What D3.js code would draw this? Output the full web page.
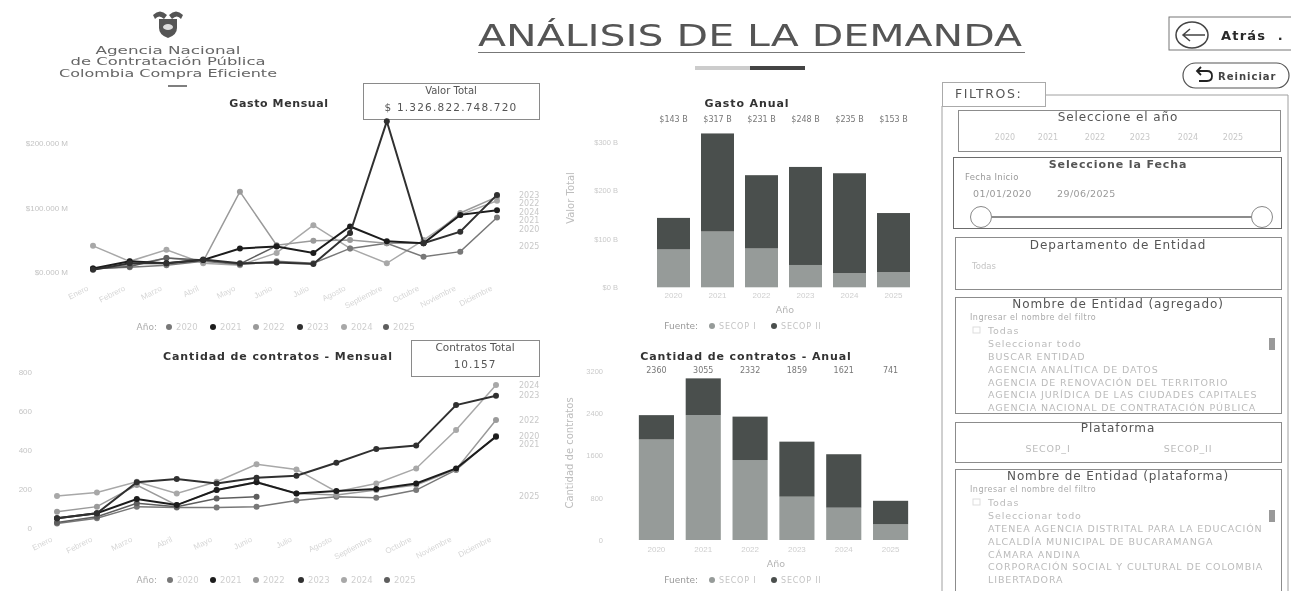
<!DOCTYPE html>
<html lang="es">
<head>
<meta charset="utf-8">
<title>Análisis de la demanda</title>
<script src="https://cdn.jsdelivr.net/npm/d3@7"></script>
<style>
  html, body { margin: 0; padding: 0; background: #fff; overflow: hidden; }
  svg { display: block; font-family: "DejaVu Sans", sans-serif; filter: blur(0.7px); }
</style>
</head>
<body>
<div id="chart"></div>
<script>
const months = ['Enero', 'Febrero', 'Marzo', 'Abril', 'Mayo', 'Junio', 'Julio', 'Agosto', 'Septiembre', 'Octubre', 'Noviembre', 'Diciembre'];
const years = ['2020', '2021', '2022', '2023', '2024', '2025'];
const sources = ['SECOP I', 'SECOP II'];

// gasto mensual, miles de millones
const gasto2020 = [6, 8, 11, 17, 12, 17, 14, 37, 45, 24, 32, 85];
const gasto2021 = [6, 17, 14, 19, 37, 40, 30, 71, 48, 45, 89, 96];
const gasto2022 = [6, 11, 22, 17, 125, 42, 49, 50, 45, 45, 92, 117];
const gasto2023 = [4, 14, 14, 20, 14, 15, 13, 61, 234, 45, 63, 120];
const gasto2024 = [41, 17, 35, 14, 11, 30, 73, 37, 14, 50, 89, 111];
const gasto2025 = [5, 9, 22, 19, 13, 41];

// contratos por mes
const contratos2020 = [22, 48, 108, 104, 103, 108, 139, 159, 154, 193, 296, 470];
const contratos2021 = [48, 74, 147, 116, 193, 233, 176, 188, 198, 227, 304, 467];
const contratos2022 = [82, 108, 219, 116, 193, 236, 176, 168, 193, 219, 299, 552];
const contratos2023 = [48, 74, 233, 250, 227, 256, 267, 333, 404, 421, 629, 677];
const contratos2024 = [162, 181, 236, 176, 236, 325, 299, 185, 227, 304, 501, 732];
const contratos2025 = [27, 56, 125, 108, 150, 159];

// anual, por fuente
const gastoSecop1 = [78, 115, 80, 46, 29, 31];
const gastoSecop2 = [65, 202, 151, 202, 206, 122];
const contratosSecop1 = [1900, 2360, 1512, 819, 611, 296];
const contratosSecop2 = [460, 695, 820, 1040, 1010, 445];

const gastoTicks = [0, 100, 200];
const contratosTicks = [0, 200, 400, 600, 800];
const gastoAnualTicks = [0, 100, 200, 300];
const contratosAnualTicks = [0, 800, 1600, 2400, 3200];

const yearColors = ['#787878', '#1c1c1c', '#9a9a9a', '#303030', '#a8a8a8', '#5e5e5e'];
const sourceColors = ['#969b99', '#4a4f4d'];

const listaAgregado = ['Todas', 'Seleccionar todo', 'BUSCAR ENTIDAD', 'AGENCIA ANALÍTICA DE DATOS', 'AGENCIA DE RENOVACIÓN DEL TERRITORIO', 'AGENCIA JURÍDICA DE LAS CIUDADES CAPITALES', 'AGENCIA NACIONAL DE CONTRATACIÓN PÚBLICA'];
const listaPlataforma = ['Todas', 'Seleccionar todo', 'ATENEA AGENCIA DISTRITAL PARA LA EDUCACIÓN', 'ALCALDÍA MUNICIPAL DE BUCARAMANGA', 'CÁMARA ANDINA', 'CORPORACIÓN SOCIAL Y CULTURAL DE COLOMBIA', 'LIBERTADORA'];

const svg = d3
  .select('#chart')
  .append('svg')
  .attr('width', 1291)
  .attr('height', 591);

const label = (x, y, text, size, fill, opts = {}) => {
  const node = svg
    .append('text')
    .attr('x', x)
    .attr('y', y)
    .attr('dy', '0.35em')
    .attr('text-anchor', opts.anchor || 'start')
    .attr('font-size', size)
    .attr('font-weight', opts.weight || 'normal')
    .attr('letter-spacing', opts.spacing || 0)
    .attr('fill', fill)
    .text(text);
  // el original esta estirado a lo ancho
  if (opts.length) node.attr('textLength', opts.length).attr('lengthAdjust', 'spacingAndGlyphs');
  return node;
};

const box = (x, y, w, h, stroke = '#8c8c8c') =>
  svg
    .append('rect')
    .attr('x', x)
    .attr('y', y)
    .attr('width', w)
    .attr('height', h)
    .attr('fill', '#fff')
    .attr('stroke', stroke)
    .attr('stroke-width', 1);

/*
  HEADER
*/
const emblem = svg.append('g').attr('transform', 'translate(168, 23)').attr('fill', '#555');
emblem.append('path').attr('d', 'M-15 -8 Q-8 -15 -1 -8 L-4 -4 Q-9 -9 -13 -4 Z');
emblem.append('path').attr('d', 'M15 -8 Q8 -15 1 -8 L4 -4 Q9 -9 13 -4 Z');
emblem.append('path').attr('d', 'M-9 -4 H9 V5 Q9 12 0 15 Q-9 12 -9 5 Z');
emblem.append('ellipse').attr('cy', 4).attr('rx', 5).attr('ry', 3).attr('fill', '#ddd');

label(168, 50, 'Agencia Nacional', 10.5, '#666', { anchor: 'middle', length: 145 });
label(168, 61.5, 'de Contratación Pública', 10.5, '#666', { anchor: 'middle', length: 195 });
label(168, 73, 'Colombia Compra Eficiente', 10.5, '#666', { anchor: 'middle', length: 218 });
svg.append('line').attr('x1', 168).attr('x2', 187).attr('y1', 86).attr('y2', 86).attr('stroke', '#555').attr('stroke-width', 1.5);

label(478, 35, 'ANÁLISIS DE LA DEMANDA', 31, '#555', { length: 544 });
svg.append('line').attr('x1', 478).attr('x2', 1025).attr('y1', 52.5).attr('y2', 52.5).attr('stroke', '#777');

svg.append('rect').attr('x', 695).attr('y', 66).attr('width', 55).attr('height', 4).attr('fill', '#ccc');
svg.append('rect').attr('x', 750).attr('y', 66).attr('width', 55).attr('height', 4).attr('fill', '#444');

// Atrás
box(1169, 17, 124, 33, '#777');
svg.append('ellipse').attr('cx', 1192).attr('cy', 35).attr('rx', 16).attr('ry', 13).attr('fill', 'none').attr('stroke', '#444').attr('stroke-width', 1.5);
svg.append('path').attr('d', 'M1205 35 H1183 M1190 29 L1183 35 L1190 41').attr('fill', 'none').attr('stroke', '#444').attr('stroke-width', 1.5);
label(1221, 35, 'Atrás\u00a0\u00a0.', 13, '#2a2a2a', { weight: 'bold', spacing: 1.2 });

// Reiniciar
svg
  .append('rect')
  .attr('x', 1183)
  .attr('y', 63)
  .attr('width', 106)
  .attr('height', 25)
  .attr('rx', 12.5)
  .attr('fill', '#fff')
  .attr('stroke', '#555')
  .attr('stroke-width', 1.2);
svg.append('path').attr('d', 'M1197 71 H1207 Q1212 71 1212 76 Q1212 81 1207 81 H1199 M1201 67 L1197 71 L1201 75').attr('fill', 'none').attr('stroke', '#222').attr('stroke-width', 1.8);
label(1218, 76, 'Reiniciar', 10, '#444', { weight: 'bold', spacing: 1 });

/*
  LINE CHARTS
*/
const lineChart = (cfg) => {
  const x = d3.scalePoint().domain(months).range(cfg.xRange);
  const y = d3.scaleLinear().domain(cfg.yDomain).range(cfg.yRange);

  const yAxis = svg
    .append('g')
    .attr('transform', `translate(${cfg.tickRight + 3}, 0)`)
    .call(d3.axisLeft(y).tickValues(cfg.ticks).tickSize(0).tickPadding(3).tickFormat(cfg.tickFormat));
  yAxis.select('.domain').remove();
  yAxis.selectAll('text').attr('fill', '#c4c4c4').attr('font-size', 8);

  const xAxis = svg
    .append('g')
    .attr('transform', `translate(0, ${cfg.monthsY})`)
    .call(d3.axisBottom(x).tickSize(0).tickPadding(0));
  xAxis.select('.domain').remove();
  xAxis
    .selectAll('text')
    .attr('fill', '#d6d6d6')
    .attr('font-size', 8)
    .attr('text-anchor', 'end')
    .attr('transform', 'translate(-7, 3) rotate(-27)');

  const line = d3
    .line()
    .x((d, i) => x(months[i]))
    .y((d) => y(d));

  // grises claros primero, los oscuros quedan encima
  const drawOrder = [4, 0, 2, 5, 1, 3];
  drawOrder.forEach((k) => {
    svg
      .append('path')
      .attr('d', line(cfg.series[k]))
      .attr('fill', 'none')
      .attr('stroke', yearColors[k])
      .attr('stroke-width', k === 1 || k === 3 ? 2 : 1.5);

    svg
      .append('g')
      .selectAll('circle')
      .data(cfg.series[k])
      .join('circle')
      .attr('cx', (d, i) => x(months[i]))
      .attr('cy', (d) => y(d))
      .attr('r', 3)
      .attr('fill', yearColors[k]);
  });

  // etiquetas finales, separadas para que no se pisen
  const ends = years
    .map((year, k) => ({ year, pos: y(cfg.series[k][cfg.series[k].length - 1]) }))
    .sort((a, b) => a.pos - b.pos);
  ends.forEach((d, i) => {
    if (i > 0 && d.pos - ends[i - 1].pos < 8.5) d.pos = ends[i - 1].pos + 8.5;
    label(cfg.endX, d.pos, d.year, 8, '#c8c8c8');
  });

  // leyenda
  label(cfg.legendX, cfg.legendY, 'Año:', 9, '#aaa', { anchor: 'end' });
  cfg.legendDots.forEach((dot, k) => {
    svg.append('circle').attr('cx', dot).attr('cy', cfg.legendY).attr('r', 3).attr('fill', yearColors[k]);
    label(dot + 7, cfg.legendY, years[k], 8.5, '#cfcfcf');
  });
};

// recuadros antes de las lineas: el pico de septiembre toca el borde
box(363.5, 83.5, 176, 36, '#8a8a8a');
box(411.5, 340.5, 128, 36, '#8a8a8a');

lineChart({
  series: [gasto2020, gasto2021, gasto2022, gasto2023, gasto2024, gasto2025],
  xRange: [93, 497],
  yDomain: [0, 250],
  yRange: [272.3, 111],
  ticks: gastoTicks,
  tickFormat: (d) => `$${d}.000 M`,
  tickRight: 68,
  monthsY: 282,
  endX: 519,
  legendX: 157,
  legendY: 327,
  legendDots: [169, 213, 256, 300, 344, 386],
});

lineChart({
  series: [contratos2020, contratos2021, contratos2022, contratos2023, contratos2024, contratos2025],
  xRange: [57, 496],
  yDomain: [0, 800],
  yRange: [527.7, 371.7],
  ticks: contratosTicks,
  tickFormat: (d) => d,
  tickRight: 32,
  monthsY: 533,
  endX: 519,
  legendX: 157,
  legendY: 580,
  legendDots: [170, 213, 256, 301, 344, 387],
});

label(279, 103, 'Gasto Mensual', 11, '#333', { anchor: 'middle', weight: 'bold', spacing: 0.6 });
label(278, 356, 'Cantidad de contratos - Mensual', 11, '#333', { anchor: 'middle', weight: 'bold', spacing: 0.9 });

label(451, 90, 'Valor Total', 10, '#555', { anchor: 'middle' });
label(451, 107, '$ 1.326.822.748.720', 10.5, '#555', { anchor: 'middle', spacing: 1.2 });
label(475, 347, 'Contratos Total', 10.5, '#555', { anchor: 'middle' });
label(475, 364, '10.157', 10.5, '#555', { anchor: 'middle', spacing: 1 });

/*
  BAR CHARTS
*/
const barChart = (cfg) => {
  const x = d3.scaleBand().domain(years.map(String)).range(cfg.xRange).paddingInner(0.25).paddingOuter(0.125);
  const y = d3.scaleLinear().domain(cfg.yDomain).range(cfg.yRange);

  const yAxis = svg
    .append('g')
    .attr('transform', `translate(${cfg.tickRight + 3}, 0)`)
    .call(d3.axisLeft(y).tickValues(cfg.ticks).tickSize(0).tickPadding(3).tickFormat(cfg.tickFormat));
  yAxis.select('.domain').remove();
  yAxis.selectAll('text').attr('fill', '#cacaca').attr('font-size', 7.5);

  const xAxis = svg
    .append('g')
    .attr('transform', `translate(0, ${cfg.yearsY})`)
    .call(d3.axisBottom(x).tickSize(0).tickPadding(0));
  xAxis.select('.domain').remove();
  xAxis.selectAll('text').attr('fill', '#cfcfcf').attr('font-size', 8);

  const rows = years.map((year, i) => ({ year, low: cfg.low[i], high: cfg.high[i] }));

  const bars = svg.append('g').selectAll('g').data(rows).join('g');

  bars
    .append('rect')
    .attr('x', (d) => x(d.year))
    .attr('y', (d) => y(d.low))
    .attr('width', x.bandwidth())
    .attr('height', (d) => y(0) - y(d.low))
    .attr('fill', sourceColors[0]);

  bars
    .append('rect')
    .attr('x', (d) => x(d.year))
    .attr('y', (d) => y(d.low + d.high))
    .attr('width', x.bandwidth())
    .attr('height', (d) => y(d.low) - y(d.low + d.high))
    .attr('fill', sourceColors[1]);

  bars
    .append('text')
    .attr('x', (d) => x(d.year) + x.bandwidth() / 2)
    .attr('y', cfg.valuesY)
    .attr('dy', '0.35em')
    .attr('text-anchor', 'middle')
    .attr('font-size', 8)
    .attr('fill', '#777')
    .text((d) => cfg.tickFormat(d.low + d.high));

  label(cfg.axisX, cfg.axisY, 'Año', 9.5, '#b4b4b4', { anchor: 'middle' });

  svg
    .append('text')
    .attr('transform', `translate(${cfg.titleX}, ${cfg.titleY}) rotate(-90)`)
    .attr('text-anchor', 'middle')
    .attr('dy', '0.35em')
    .attr('font-size', 10)
    .attr('fill', '#bdbdbd')
    .text(cfg.yTitle);

  label(698, cfg.legendY, 'Fuente:', 9, '#999', { anchor: 'end' });
  [712, 774].forEach((dot, k) => {
    svg.append('circle').attr('cx', dot).attr('cy', cfg.legendY).attr('r', 3).attr('fill', sourceColors[k]);
    label(dot + 7, cfg.legendY, sources[k], 8, '#c4c4c4', { spacing: 0.8 });
  });
};

barChart({
  low: gastoSecop1,
  high: gastoSecop2,
  xRange: [651.5, 915.5],
  yDomain: [0, 300],
  yRange: [287.3, 141.7],
  ticks: gastoAnualTicks,
  tickFormat: (d) => `$${d} B`,
  tickRight: 618,
  valuesY: 119,
  yearsY: 292,
  axisX: 785,
  axisY: 310,
  titleX: 570,
  titleY: 198,
  yTitle: 'Valor Total',
  legendY: 326,
});

barChart({
  low: contratosSecop1,
  high: contratosSecop2,
  xRange: [633, 914],
  yDomain: [0, 3200],
  yRange: [540, 370.7],
  ticks: contratosAnualTicks,
  tickFormat: (d) => d,
  tickRight: 603,
  valuesY: 370,
  yearsY: 546,
  axisX: 776,
  axisY: 564,
  titleX: 569,
  titleY: 453,
  yTitle: 'Cantidad de contratos',
  legendY: 580,
});

label(747, 103, 'Gasto Anual', 11, '#333', { anchor: 'middle', weight: 'bold', spacing: 0.9 });
label(746, 356, 'Cantidad de contratos - Anual', 11, '#333', { anchor: 'middle', weight: 'bold', spacing: 0.9 });

/*
  FILTROS
*/
svg
  .append('path')
  .attr('d', 'M1046 95 H1288 V591 M942 106 V591')
  .attr('fill', 'none')
  .attr('stroke', '#a0a0a0');
box(942.5, 82.5, 103, 24, '#aaa');
label(955, 94, 'FILTROS:', 12.5, '#555', { spacing: 1.6 });

const sectionTitle = (y, text, weight) =>
  label(1118, y, text, weight ? 11 : 12, '#555', { anchor: 'middle', weight: weight || 'normal', spacing: 0.9 });

box(958.5, 110.5, 322, 41);
sectionTitle(117, 'Seleccione el año');
[1005, 1048, 1095, 1140, 1188, 1233].forEach((pos, i) => {
  label(pos, 137, years[i], 8, '#c8c8c8', { anchor: 'middle' });
});

box(953.5, 157.5, 328, 71, '#6c6c6c');
sectionTitle(164, 'Seleccione la Fecha', 'bold');
label(965, 177, 'Fecha Inicio', 8.5, '#999', { spacing: 0.3 });
label(973, 194, '01/01/2020', 9.5, '#999', { spacing: 0.4 });
label(1057, 194, '29/06/2025', 9.5, '#999', { spacing: 0.4 });
svg.append('line').attr('x1', 992).attr('x2', 1252).attr('y1', 217).attr('y2', 217).attr('stroke', '#666').attr('stroke-width', 1.5);
[981, 1262].forEach((cx) => {
  svg.append('circle').attr('cx', cx).attr('cy', 217).attr('r', 10.5).attr('fill', '#fff').attr('stroke', '#888');
});

box(955.5, 237.5, 326, 52);
sectionTitle(245, 'Departamento de Entidad');
label(972, 266, 'Todas', 8.5, '#c4c4c4');

const listSection = (top, height, title, rows, thumbY) => {
  box(955.5, top + 0.5, 326, height);
  sectionTitle(top + 7, title);
  label(970, top + 20, 'Ingresar el nombre del filtro', 8, '#aaa', { spacing: 0.5 });
  svg
    .append('rect')
    .attr('x', 973)
    .attr('y', top + 30)
    .attr('width', 7)
    .attr('height', 6)
    .attr('fill', 'none')
    .attr('stroke', '#ddd');
  rows.forEach((row, i) => {
    label(988, top + 34 + i * 12.8, row, 9.5, '#bbb', { spacing: 0.9 });
  });
  svg.append('rect').attr('x', 1269).attr('y', thumbY).attr('width', 6).attr('height', 12).attr('fill', '#999');
};

listSection(297, 116, 'Nombre de Entidad (agregado)', listaAgregado, 338);

box(955.5, 422.5, 326, 40);
sectionTitle(428, 'Plataforma');
label(1048, 449, 'SECOP_I', 9.5, '#bbb', { anchor: 'middle', spacing: 0.8 });
label(1188, 449, 'SECOP_II', 9.5, '#bbb', { anchor: 'middle', spacing: 0.8 });

listSection(469, 130, 'Nombre de Entidad (plataforma)', listaPlataforma, 510);
</script>
</body>
</html>
